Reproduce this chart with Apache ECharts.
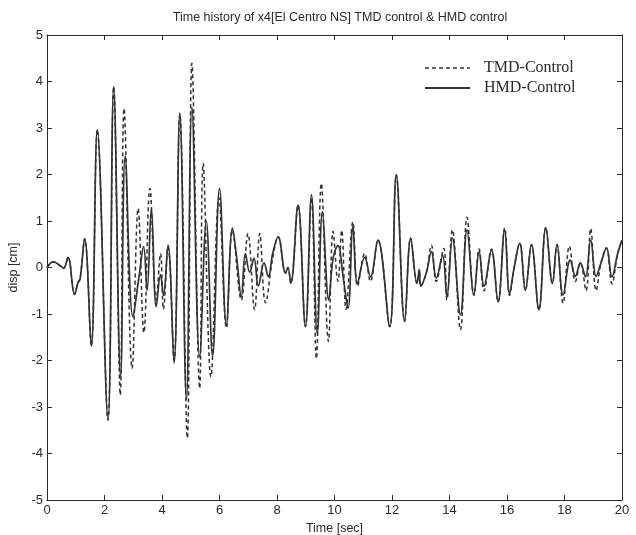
<!DOCTYPE html>
<html>
<head>
<meta charset="utf-8">
<script src="https://cdn.jsdelivr.net/npm/echarts@6/dist/echarts.min.js"></script>
<style>html,body{margin:0;padding:0;background:#fff}#c{width:636px;height:535px}</style>
</head>
<body>
<div id="c"></div>
<script>
var titleText = 'Time history of x4[El Centro NS] TMD control & HMD control';
var legendNames = ['TMD-Control', 'HMD-Control'];
var xTicks = [0, 2, 4, 6, 8, 10, 12, 14, 16, 18, 20];
var yTicks = [-5, -4, -3, -2, -1, 0, 1, 2, 3, 4, 5];

var hmdTime = [0, 0.22, 0.5, 0.58, 0.73, 0.96, 1.08, 1.15, 1.31, 1.54, 1.75, 2.12, 2.32, 2.56, 2.72, 2.99, 3.2, 3.36, 3.48, 3.63, 3.8, 3.95, 4.05, 4.21, 4.42, 4.62, 4.85, 5.04, 5.31, 5.54, 5.76, 6.0, 6.24, 6.45, 6.6, 6.76, 6.9, 7.05, 7.2, 7.35, 7.55, 7.7, 7.85, 8.04, 8.3, 8.38, 8.48, 8.73, 8.99, 9.2, 9.4, 9.58, 9.8, 9.95, 10.12, 10.3, 10.47, 10.64, 10.8, 11.05, 11.25, 11.51, 11.92, 12.15, 12.44, 12.65, 12.87, 12.95, 13.0, 13.2, 13.37, 13.54, 13.76, 13.91, 14.1, 14.38, 14.61, 14.85, 15.03, 15.2, 15.46, 15.69, 15.92, 16.09, 16.25, 16.44, 16.64, 16.85, 17.11, 17.35, 17.58, 17.74, 17.95, 18.2, 18.38, 18.55, 18.73, 18.91, 19.1, 19.27, 19.46, 19.65, 19.85, 20];
var hmdDisp = [0, 0.12, 0.02, -0.02, 0.22, -0.58, -0.32, -0.25, 0.62, -1.69, 2.96, -3.28, 3.89, -2.35, 2.4, -1.06, -0.2, 0.45, -0.5, 1.28, -0.84, -0.15, -0.6, 0.48, -2.06, 3.32, -2.85, 3.45, -1.92, 1.0, -1.9, 1.7, -1.24, 0.85, 0.2, -0.63, 0.3, -0.1, 0.2, -0.4, 0.1, -0.2, 0.3, 0.66, -0.12, 0.0, -0.34, 1.34, -1.27, 1.56, -1.42, 1.2, -0.7, 0.2, 0.47, -0.2, -0.88, 0.88, -0.34, 0.22, -0.2, 0.59, -1.27, 1.99, -1.16, 0.63, -0.34, -0.05, -0.4, -0.1, 0.34, -0.23, 0.26, -0.63, 0.63, -1.02, 0.81, -0.58, 0.34, -0.4, 0.37, -0.74, 0.81, -0.56, 0.0, 0.52, -0.49, 0.49, -0.91, 0.86, -0.34, 0.49, -0.59, 0.16, -0.19, 0.1, -0.2, 0.59, -0.19, 0.1, 0.42, -0.2, 0.3, 0.59];

var tmdTime = [0, 0.22, 0.5, 0.58, 0.73, 0.96, 1.08, 1.15, 1.31, 1.54, 1.75, 2.12, 2.32, 2.55, 2.68, 2.96, 3.17, 3.37, 3.58, 3.8, 3.95, 4.05, 4.21, 4.42, 4.62, 4.88, 5.04, 5.31, 5.43, 5.7, 5.98, 6.24, 6.45, 6.76, 6.99, 7.22, 7.4, 7.6, 7.85, 8.04, 8.3, 8.38, 8.48, 8.73, 8.99, 9.2, 9.37, 9.54, 9.79, 9.95, 10.12, 10.25, 10.4, 10.64, 10.8, 11.05, 11.25, 11.51, 11.92, 12.15, 12.44, 12.65, 12.87, 12.95, 13.0, 13.2, 13.37, 13.54, 13.8, 13.91, 14.1, 14.38, 14.61, 14.85, 15.03, 15.2, 15.46, 15.69, 15.92, 16.09, 16.25, 16.44, 16.64, 16.85, 17.11, 17.35, 17.58, 17.74, 17.95, 18.17, 18.38, 18.55, 18.75, 18.91, 19.1, 19.27, 19.46, 19.65, 19.85, 20];
var tmdDisp = [0, 0.12, 0.02, -0.02, 0.22, -0.58, -0.32, -0.25, 0.62, -1.69, 2.96, -3.28, 3.89, -2.74, 3.42, -2.17, 1.27, -1.4, 1.7, -0.7, 0.3, -0.9, 0.45, -2.0, 3.3, -3.67, 4.39, -2.6, 2.24, -2.35, 1.5, -1.3, 0.8, -0.7, 0.73, -0.91, 0.73, -0.76, 0.2, 0.66, -0.12, 0.0, -0.34, 1.34, -1.27, 1.5, -1.96, 1.81, -1.59, 0.78, -0.3, 0.8, -0.9, 0.98, -0.4, 0.3, -0.3, 0.59, -1.27, 1.99, -1.16, 0.63, -0.34, -0.05, -0.4, -0.1, 0.48, -0.3, 0.41, -0.7, 0.81, -1.34, 1.08, -0.6, 0.4, -0.5, 0.4, -0.74, 0.85, -0.6, 0.0, 0.52, -0.49, 0.49, -0.91, 0.86, -0.34, 0.49, -0.77, 0.46, -0.3, 0.1, -0.5, 0.84, -0.5, 0.1, 0.42, -0.35, 0.3, 0.59];

function zip(t, v) { return t.map(function (x, i) { return [x, v[i]]; }); }

var chart = echarts.init(document.getElementById('c'));
var sans = 'Liberation Sans, Arial, sans-serif';
var serif = 'Liberation Serif, Times New Roman, serif';
var ink = '#2a2a2a';
var tickStyle = { show: true, inside: true, length: 5, lineStyle: { color: ink, width: 1 } };
var axLine = { show: true, onZero: false, lineStyle: { color: ink, width: 1 } };
chart.setOption({
  animation: false,
  backgroundColor: '#fff',
  title: {
    text: titleText, left: 335, top: 6, textAlign: 'center',
    textStyle: { fontFamily: sans, fontSize: 12.5, fontWeight: 'normal', color: ink }
  },
  graphic: [
    { type: 'line', shape: { x1: 425, y1: 68, x2: 470, y2: 68 }, style: { stroke: '#333', lineWidth: 1.6, lineDash: [4, 3] } },
    { type: 'text', x: 484, y: 68, style: { text: legendNames[0], font: '16px ' + serif, fill: ink, textVerticalAlign: 'middle' } },
    { type: 'line', shape: { x1: 425, y1: 88, x2: 470, y2: 88 }, style: { stroke: '#333', lineWidth: 1.8 } },
    { type: 'text', x: 484, y: 88, style: { text: legendNames[1], font: '16px ' + serif, fill: ink, textVerticalAlign: 'middle' } }
  ],
  grid: { left: 47, right: 14, top: 35, bottom: 35, containLabel: false, outerBoundsMode: 'none' },
  xAxis: [{
    type: 'value', min: 0, max: 20, interval: 2,
    name: 'Time [sec]', nameLocation: 'middle', nameGap: 21,
    nameTextStyle: { fontFamily: sans, fontSize: 12.5, color: ink },
    axisLine: axLine, axisTick: tickStyle, splitLine: { show: false },
    axisLabel: { fontFamily: sans, fontSize: 13, color: ink, margin: 4,
      formatter: function (v) { return xTicks.indexOf(v) >= 0 ? String(v) : ''; } }
  }, {
    type: 'value', min: 0, max: 20, interval: 2, position: 'top',
    axisLine: axLine, axisTick: tickStyle, axisLabel: { show: false }, splitLine: { show: false }
  }],
  yAxis: [{
    type: 'value', min: -5, max: 5, interval: 1,
    name: 'disp [cm]', nameLocation: 'middle', nameGap: 15, nameRotate: 90,
    nameTextStyle: { fontFamily: sans, fontSize: 12.5, color: ink },
    axisLine: axLine, axisTick: tickStyle, splitLine: { show: false },
    axisLabel: { fontFamily: sans, fontSize: 13, color: ink, margin: 4,
      formatter: function (v) { return yTicks.indexOf(v) >= 0 ? String(v) : ''; } }
  }, {
    type: 'value', min: -5, max: 5, interval: 1, position: 'right',
    axisLine: axLine, axisTick: tickStyle, axisLabel: { show: false }, splitLine: { show: false }
  }],
  series: [{
    name: legendNames[0], type: 'line', data: zip(tmdTime, tmdDisp),
    smooth: 0.4, symbol: 'none', showSymbol: false,
    lineStyle: { color: '#333', width: 1.5, type: [4, 3] }
  }, {
    name: legendNames[1], type: 'line', data: zip(hmdTime, hmdDisp),
    smooth: 0.4, symbol: 'none', showSymbol: false,
    lineStyle: { color: '#333', width: 1.7 }
  }]
});
</script>
</body>
</html>
